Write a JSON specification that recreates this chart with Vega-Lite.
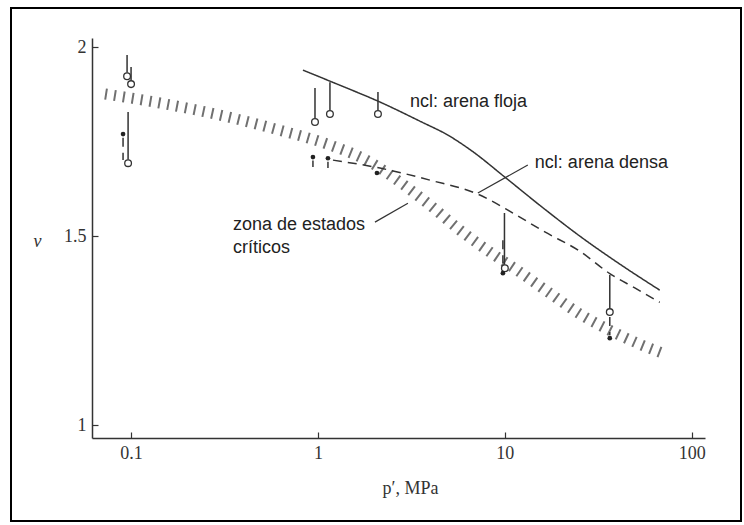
{
  "$schema": "https://vega.github.io/schema/vega-lite/v6.json",
  "width": 730,
  "height": 513,
  "autosize": "none",
  "padding": {"left": 11, "top": 8, "right": 3, "bottom": 4},
  "background": "white",
  "config": {
    "view": {"stroke": "black", "strokeWidth": 2},
    "axis": {
      "grid": false,
      "domainColor": "#333",
      "domainWidth": 1.5,
      "tickColor": "#333",
      "tickWidth": 1.2,
      "tickSize": -6,
      "labelPadding": 12,
      "labelFont": "Liberation Serif",
      "labelFontSize": 18,
      "labelColor": "#333",
      "titleFont": "Liberation Serif",
      "titleFontSize": 18,
      "titleFontWeight": "normal",
      "titleColor": "#333"
    }
  },
  "datasets": {
    "curves": [
      {"curve": "floja", "p": 0.831, "v": 1.939},
      {"curve": "floja", "p": 1.311, "v": 1.899},
      {"curve": "floja", "p": 2.094, "v": 1.857},
      {"curve": "floja", "p": 3.512, "v": 1.804},
      {"curve": "floja", "p": 5.04, "v": 1.765},
      {"curve": "floja", "p": 6.8, "v": 1.722},
      {"curve": "floja", "p": 10.0, "v": 1.656},
      {"curve": "floja", "p": 16.36, "v": 1.571},
      {"curve": "floja", "p": 25.18, "v": 1.5},
      {"curve": "floja", "p": 41.21, "v": 1.426},
      {"curve": "floja", "p": 67.44, "v": 1.357},
      {"curve": "densa", "p": 1.203, "v": 1.701},
      {"curve": "densa", "p": 2.146, "v": 1.68},
      {"curve": "densa", "p": 3.972, "v": 1.648},
      {"curve": "densa", "p": 7.171, "v": 1.611},
      {"curve": "densa", "p": 11.04, "v": 1.561},
      {"curve": "densa", "p": 16.36, "v": 1.511},
      {"curve": "densa", "p": 25.18, "v": 1.46},
      {"curve": "densa", "p": 36.42, "v": 1.401},
      {"curve": "densa", "p": 49.57, "v": 1.363},
      {"curve": "densa", "p": 67.44, "v": 1.325}
    ],
    "zona": [
      {"p": 0.0726, "v": 1.876},
      {"p": 0.1429, "v": 1.852},
      {"p": 0.2992, "v": 1.82},
      {"p": 0.626, "v": 1.78},
      {"p": 1.159, "v": 1.741},
      {"p": 1.897, "v": 1.696},
      {"p": 2.745, "v": 1.643},
      {"p": 3.972, "v": 1.582},
      {"p": 5.745, "v": 1.516},
      {"p": 8.317, "v": 1.458},
      {"p": 12.03, "v": 1.405},
      {"p": 17.4, "v": 1.349},
      {"p": 25.18, "v": 1.294},
      {"p": 36.42, "v": 1.251},
      {"p": 52.72, "v": 1.214},
      {"p": 71.71, "v": 1.188}
    ],
    "stems": [
      {"p": 0.0952, "v": 1.979, "v2": 1.932, "style": "solid"},
      {"p": 0.1, "v": 1.947, "v2": 1.911, "style": "solid"},
      {"p": 0.0964, "v": 1.828, "v2": 1.702, "style": "solid"},
      {"p": 0.964, "v": 1.892, "v2": 1.811, "style": "solid"},
      {"p": 1.159, "v": 1.907, "v2": 1.832, "style": "solid"},
      {"p": 2.094, "v": 1.881, "v2": 1.832, "style": "solid"},
      {"p": 9.95, "v": 1.561, "v2": 1.424, "style": "solid"},
      {"p": 36.42, "v": 1.397, "v2": 1.308, "style": "solid"},
      {"p": 0.0906, "v": 1.76, "v2": 1.701, "style": "dashed"},
      {"p": 0.94, "v": 1.7, "v2": 1.683, "style": "dashed"},
      {"p": 1.131, "v": 1.697, "v2": 1.68, "style": "dashed"},
      {"p": 9.76, "v": 1.489, "v2": 1.429, "style": "dashed"},
      {"p": 36.42, "v": 1.286, "v2": 1.238, "style": "dashed"}
    ],
    "pts": [
      {"p": 0.0952, "v": 1.923, "kind": "open"},
      {"p": 0.1, "v": 1.902, "kind": "open"},
      {"p": 0.0964, "v": 1.693, "kind": "open"},
      {"p": 0.964, "v": 1.802, "kind": "open"},
      {"p": 1.159, "v": 1.823, "kind": "open"},
      {"p": 2.094, "v": 1.823, "kind": "open"},
      {"p": 10.0, "v": 1.415, "kind": "open"},
      {"p": 36.42, "v": 1.299, "kind": "open"},
      {"p": 0.0906, "v": 1.77, "kind": "filled"},
      {"p": 0.94, "v": 1.709, "kind": "filled"},
      {"p": 1.131, "v": 1.706, "kind": "filled"},
      {"p": 2.068, "v": 1.667, "kind": "filled"},
      {"p": 9.76, "v": 1.402, "kind": "filled"},
      {"p": 36.42, "v": 1.23, "kind": "filled"}
    ],
    "leaders": [
      {"p": 13.27, "v": 1.688, "p2": 7.17, "v2": 1.614},
      {"p": 2.018, "v": 1.537, "p2": 3.029, "v2": 1.587}
    ],
    "labels": [
      {"p": 3.105, "v": 1.854, "text": "ncl: arena floja"},
      {"p": 14.47, "v": 1.693, "text": "ncl: arena densa"},
      {"p": 0.351, "v": 1.529, "text": "zona de estados"},
      {"p": 0.351, "v": 1.468, "text": "críticos"}
    ]
  },
  "encoding": {
    "x": {
      "field": "p",
      "type": "quantitative",
      "scale": {"type": "log", "domain": [0.0618, 117.7], "range": [81, 694], "nice": false},
      "axis": {
        "values": [0.1, 1, 10, 100],
        "format": "~g",
        "offset": -83,
        "title": "p′, MPa",
        "titleX": 399,
        "titleY": 55,
        "titleBaseline": "alphabetic",
        "titleAlign": "center"
      }
    },
    "y": {
      "field": "v",
      "type": "quantitative",
      "scale": {"domain": [0.966, 2.024], "range": [430, 30], "nice": false, "zero": false},
      "axis": {
        "values": [1, 1.5, 2],
        "format": "~g",
        "offset": -81,
        "title": "v",
        "titleFontStyle": "italic",
        "titleAngle": 0,
        "titleX": -55,
        "titleY": 238,
        "titleAlign": "center",
        "titleBaseline": "alphabetic"
      }
    }
  },
  "layer": [
    {
      "data": {"name": "zona"},
      "mark": {"type": "line", "color": "#707070", "strokeWidth": 11, "strokeDash": [2, 7], "strokeCap": "butt", "interpolate": "monotone"},
      "encoding": {}
    },
    {
      "data": {"name": "curves"},
      "mark": {"type": "line", "color": "#333", "strokeWidth": 1.5, "interpolate": "monotone"},
      "encoding": {
        "detail": {"field": "curve"},
        "strokeDash": {"field": "curve", "type": "nominal", "scale": {"domain": ["floja", "densa"], "range": [[1, 0], [9, 6]]}, "legend": null}
      }
    },
    {
      "data": {"name": "stems"},
      "mark": {"type": "rule", "color": "#333", "strokeWidth": 1.5},
      "encoding": {
        "y2": {"field": "v2"},
        "strokeDash": {"field": "style", "type": "nominal", "scale": {"domain": ["solid", "dashed"], "range": [[1, 0], [4, 3]]}, "legend": null}
      }
    },
    {
      "data": {"name": "pts"},
      "transform": [{"filter": "datum.kind === 'open'"}],
      "mark": {"type": "point", "shape": "circle", "filled": false, "fill": "white", "stroke": "#333", "strokeWidth": 1.3, "size": 45, "opacity": 1}
    },
    {
      "data": {"name": "pts"},
      "transform": [{"filter": "datum.kind === 'filled'"}],
      "mark": {"type": "point", "shape": "circle", "filled": true, "color": "#222", "size": 22, "opacity": 1}
    },
    {
      "data": {"name": "leaders"},
      "mark": {"type": "rule", "color": "#333", "strokeWidth": 1.2},
      "encoding": {"x2": {"field": "p2"}, "y2": {"field": "v2"}}
    },
    {
      "data": {"name": "labels"},
      "mark": {"type": "text", "align": "left", "baseline": "middle", "font": "Liberation Sans", "fontSize": 18, "color": "#222"},
      "encoding": {"text": {"field": "text"}}
    }
  ]
}
